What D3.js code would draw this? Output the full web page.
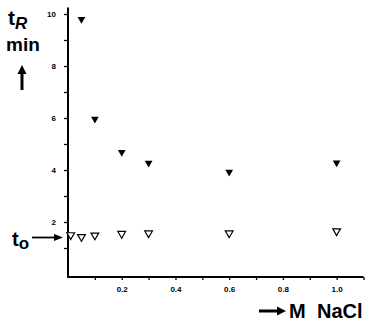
<!DOCTYPE html>
<html>
<head>
<meta charset="utf-8">
<script src="https://cdn.jsdelivr.net/npm/d3@7"></script>
<style>
  body { margin: 0; background: #fff; }
  svg text { font-family: "Liberation Sans", Arial, Helvetica, sans-serif; font-weight: bold; fill: #000; }
</style>
</head>
<body>
<div id="chart"></div>
<script>
// NaCl concentration (M)
const filledX = [0.05, 0.1, 0.2, 0.3, 0.6, 1.0];
const filledY = [9.8, 5.96, 4.68, 4.27, 3.92, 4.28];

const openX = [0.01, 0.05, 0.1, 0.2, 0.3, 0.6, 1.0];
const openY = [1.5, 1.43, 1.49, 1.55, 1.57, 1.57, 1.65];

const xTicks = [0.1, 0.2, 0.3, 0.4, 0.5, 0.6, 0.7, 0.8, 0.9, 1.0, 1.1];
const xLabels = [0.2, 0.4, 0.6, 0.8, 1.0];
const yTicks = [1, 2, 3, 4, 5, 6, 7, 8, 9, 10];
const yLabels = [2, 4, 6, 8, 10];

const width = 368;
const height = 324;

const svg = d3.select("#chart")
  .append("svg")
  .attr("width", width)
  .attr("height", height);

const x = d3.scaleLinear().domain([0, 1.1]).range([68, 363.5]);
const y = d3.scaleLinear().domain([-0.115, 10.25]).range([277, 7.5]);

// x axis
const xAxis = d3.axisBottom(x)
  .tickValues(xTicks)
  .tickSize(3)
  .tickFormat(d => xLabels.some(v => Math.abs(v - d) < 1e-9) ? d3.format(".1f")(d) : "");

const gx = svg.append("g")
  .attr("transform", `translate(0,${y.range()[0]})`)
  .call(xAxis);
gx.select(".domain").attr("stroke", "#000").attr("stroke-width", 2).attr("d", `M${x(0) - 1},0H${x(1.1)}`);
gx.selectAll(".tick line").attr("stroke", "#000").attr("stroke-width", 1.3);
gx.selectAll(".tick text").attr("font-size", 8).attr("dy", "1.1em");

// y axis
const yAxis = d3.axisLeft(y)
  .tickValues(yTicks)
  .tickSize(4)
  .tickPadding(8)
  .tickFormat(d => yLabels.includes(d) ? d : "");

const gy = svg.append("g")
  .attr("transform", `translate(${x(0)},0)`)
  .call(yAxis);
gy.select(".domain").attr("stroke", "#000").attr("stroke-width", 2).attr("d", `M0,${y.range()[1]}V${y.range()[0] + 1}`);
gy.selectAll(".tick line").attr("stroke", "#000").attr("stroke-width", 1.3);
gy.selectAll(".tick text").attr("font-size", 8);

// markers
const tri = d3.symbol().type(d3.symbolTriangle).size(26);

svg.append("g")
  .selectAll("path")
  .data(filledX.map((d, i) => [d, filledY[i]]))
  .enter()
  .append("path")
  .attr("d", tri)
  .attr("transform", d => `translate(${x(d[0])},${y(d[1])}) rotate(180)`)
  .attr("fill", "#000");

svg.append("g")
  .selectAll("path")
  .data(openX.map((d, i) => [d, openY[i]]))
  .enter()
  .append("path")
  .attr("d", tri)
  .attr("transform", d => `translate(${x(d[0])},${y(d[1])}) rotate(180)`)
  .attr("fill", "#fff")
  .attr("stroke", "#000")
  .attr("stroke-width", 1.2);

// y label: tR min with up arrow
const yl = svg.append("text").attr("x", 8).attr("y", 25).attr("font-size", 21);
yl.append("tspan").text("t");
yl.append("tspan").attr("font-size", 17).attr("dy", 4).attr("font-style", "italic").text("R");
svg.append("text").attr("x", 6).attr("y", 51).attr("font-size", 19).text("min");

svg.append("line")
  .attr("x1", 22).attr("x2", 22).attr("y1", 90).attr("y2", 72)
  .attr("stroke", "#000").attr("stroke-width", 3);
svg.append("path")
  .attr("d", "M17.5,74 L22,65 L26.5,74 Z")
  .attr("fill", "#000");

// t0 marker
const t0 = svg.append("text").attr("x", 12).attr("y", 246).attr("font-size", 20);
t0.append("tspan").text("t");
t0.append("tspan").attr("font-size", 17).attr("dy", 3).text("o");

svg.append("line")
  .attr("x1", 32).attr("x2", 56).attr("y1", 237.5).attr("y2", 237.5)
  .attr("stroke", "#000").attr("stroke-width", 1.8);
svg.append("path")
  .attr("d", "M54,234 L63,237.5 L54,241 Z")
  .attr("fill", "#000");

// x label: -> M NaCl
svg.append("line")
  .attr("x1", 259).attr("x2", 279).attr("y1", 311).attr("y2", 311)
  .attr("stroke", "#000").attr("stroke-width", 3);
svg.append("path")
  .attr("d", "M277,306.5 L286,311 L277,315.5 Z")
  .attr("fill", "#000");
svg.append("text")
  .attr("x", 289).attr("y", 318).attr("font-size", 20)
  .text("M");
svg.append("text")
  .attr("x", 317).attr("y", 318).attr("font-size", 20)
  .text("NaCl");
</script>
</body>
</html>
